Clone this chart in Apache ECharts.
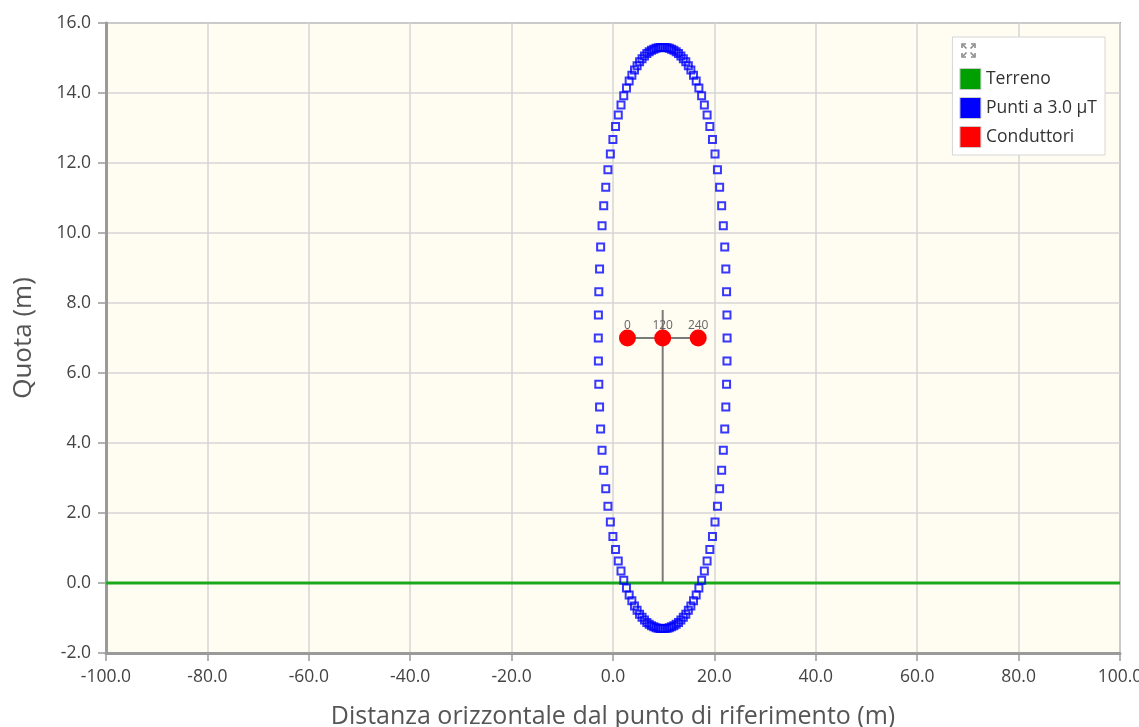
<!DOCTYPE html>
<html>
<head>
<meta charset="utf-8">
<script src="https://cdn.jsdelivr.net/npm/echarts@6/dist/echarts.min.js"></script>
<style>
html,body{margin:0;padding:0;background:#ffffff;}
#chart{width:1139px;height:727px;}
</style>
</head>
<body>
<div id="chart"></div>
<script>
// ---- data ----
const seriesNames = ['Terreno', 'Punti a 3.0 μT', 'Conduttori'];
const groundX = [-100, 100];
const groundY = [0, 0];

const contourX = [
  22.50, 22.48, 22.40, 22.25, 22.04, 21.76, 21.43, 21.03, 20.60, 20.12,
  19.62, 19.10, 18.56, 18.02, 17.48, 16.94, 16.41, 15.88, 15.36, 14.86,
  14.36, 13.87, 13.39, 12.92, 12.46, 12.00, 11.55, 11.11, 10.67, 10.24,
  9.80, 9.37, 8.93, 8.49, 8.05, 7.60, 7.14, 6.68, 6.21, 5.73,
  5.24, 4.75, 4.24, 3.72, 3.19, 2.66, 2.12, 1.58, 1.04, 0.50,
  -0.02, -0.52, -1.00, -1.43, -1.83, -2.16, -2.44, -2.65, -2.80, -2.88,
  -2.90, -2.88, -2.80, -2.65, -2.44, -2.16, -1.83, -1.43, -1.00, -0.52,
  -0.02, 0.50, 1.04, 1.58, 2.12, 2.66, 3.19, 3.72, 4.24, 4.75,
  5.24, 5.73, 6.21, 6.68, 7.14, 7.60, 8.05, 8.49, 8.93, 9.37,
  9.80, 10.24, 10.67, 11.11, 11.55, 12.00, 12.46, 12.92, 13.39, 13.87,
  14.36, 14.86, 15.36, 15.88, 16.41, 16.94, 17.48, 18.02, 18.56, 19.10,
  19.62, 20.12, 20.60, 21.03, 21.43, 21.76, 22.04, 22.25, 22.40, 22.48
];
const contourY = [
  7.00, 7.66, 8.32, 8.97, 9.60, 10.21, 10.78, 11.31, 11.81, 12.26,
  12.67, 13.04, 13.37, 13.66, 13.92, 14.14, 14.34, 14.51, 14.66, 14.78,
  14.89, 14.98, 15.06, 15.13, 15.18, 15.22, 15.25, 15.28, 15.29, 15.30,
  15.30, 15.30, 15.29, 15.28, 15.25, 15.22, 15.18, 15.13, 15.06, 14.98,
  14.89, 14.78, 14.66, 14.51, 14.34, 14.14, 13.92, 13.66, 13.37, 13.04,
  12.67, 12.26, 11.81, 11.31, 10.78, 10.21, 9.60, 8.97, 8.32, 7.66,
  7.00, 6.34, 5.68, 5.03, 4.40, 3.79, 3.22, 2.69, 2.19, 1.74,
  1.33, 0.96, 0.63, 0.34, 0.08, -0.14, -0.34, -0.51, -0.66, -0.78,
  -0.89, -0.98, -1.06, -1.13, -1.18, -1.22, -1.25, -1.28, -1.29, -1.30,
  -1.30, -1.30, -1.29, -1.28, -1.25, -1.22, -1.18, -1.13, -1.06, -0.98,
  -0.89, -0.78, -0.66, -0.51, -0.34, -0.14, 0.08, 0.34, 0.63, 0.96,
  1.33, 1.74, 2.19, 2.69, 3.22, 3.79, 4.40, 5.03, 5.68, 6.34
];

const conductorX = [2.85, 9.8, 16.8];
const conductorY = [7.0, 7.0, 7.0];
const conductorLabels = ['0', '120', '240'];

const poleX = [9.8, 9.8];
const poleY = [0, 7.8];
const armX = [2.85, 16.8];
const armY = [7.0, 7.0];

// ---- build ----
const zip = (xs, ys) => xs.map((x, i) => [x, ys[i]]);
const font = '"Open Sans", "DejaVu Sans", sans-serif';
const iconStyle = () => ({stroke: '#8a8a8a', lineWidth: 1.6, fill: 'none'});

const chart = echarts.init(document.getElementById('chart'), null, {renderer: 'canvas'});
chart.setOption({
  backgroundColor: '#ffffff',
  animation: false,
  textStyle: {fontFamily: font},
  grid: {
    left: 106, right: 19, top: 23, bottom: 74,
    containLabel: false, outerBoundsMode: 'none',
    show: true, backgroundColor: '#fffcf2',
    borderColor: '#a8a8a8', borderWidth: 2
  },
  xAxis: {
    type: 'value', min: -100, max: 100, interval: 20,
    name: 'Distanza orizzontale dal punto di riferimento (m)',
    nameLocation: 'middle', nameGap: 51,
    nameTextStyle: {fontSize: 25, color: '#555', fontFamily: font},
    axisLine: {show: true, onZero: false, lineStyle: {color: '#9a9a9a', width: 3}},
    axisTick: {show: true, length: 8, lineStyle: {color: '#9a9a9a', width: 1.5}},
    axisLabel: {fontSize: 17.5, color: '#444', margin: 15, formatter: v => v.toFixed(1), fontFamily: font},
    splitLine: {show: true, lineStyle: {color: '#d6d6d6', width: 1.5}}
  },
  yAxis: {
    type: 'value', min: -2, max: 16, interval: 2,
    name: 'Quota (m)', nameLocation: 'middle', nameGap: 69,
    nameTextStyle: {fontSize: 26, color: '#555', fontFamily: font},
    axisLine: {show: true, onZero: false, lineStyle: {color: '#9a9a9a', width: 3}},
    axisTick: {show: true, length: 8, lineStyle: {color: '#9a9a9a', width: 1.5}},
    axisLabel: {fontSize: 17.5, color: '#444', margin: 15, formatter: v => v.toFixed(1), fontFamily: font},
    splitLine: {show: true, lineStyle: {color: '#d6d6d6', width: 1.5}}
  },
  legend: {
    orient: 'vertical', right: 34, top: 37,
    padding: [31, 8, 7, 7],
    backgroundColor: '#ffffff', borderColor: '#d6d6d6', borderWidth: 1,
    itemWidth: 21, itemHeight: 21, itemGap: 7, icon: 'rect',
    textStyle: {fontSize: 17.5, color: '#333', fontFamily: font},
    data: [
      {name: seriesNames[0], itemStyle: {color: '#00a000', borderColor: '#cccccc', borderWidth: 1, opacity: 1}},
      {name: seriesNames[1], itemStyle: {color: '#0000ff', borderColor: '#cccccc', borderWidth: 1, opacity: 1}},
      {name: seriesNames[2], itemStyle: {color: '#ff0000', borderColor: '#cccccc', borderWidth: 1, opacity: 1}}
    ],
    selectedMode: false
  },
  graphic: {
    elements: [
      {type: 'polyline', x: 962, y: 44, z: 100, shape: {points: [[0, 4], [0, 0], [4, 0]]}, style: iconStyle()},
      {type: 'polyline', x: 962, y: 44, z: 100, shape: {points: [[9, 0], [13, 0], [13, 4]]}, style: iconStyle()},
      {type: 'polyline', x: 962, y: 44, z: 100, shape: {points: [[0, 9], [0, 13], [4, 13]]}, style: iconStyle()},
      {type: 'polyline', x: 962, y: 44, z: 100, shape: {points: [[9, 13], [13, 13], [13, 9]]}, style: iconStyle()},
      {type: 'line', x: 962, y: 44, z: 100, shape: {x1: 1, y1: 1, x2: 4.5, y2: 4.5}, style: iconStyle()},
      {type: 'line', x: 962, y: 44, z: 100, shape: {x1: 12, y1: 1, x2: 8.5, y2: 4.5}, style: iconStyle()},
      {type: 'line', x: 962, y: 44, z: 100, shape: {x1: 1, y1: 12, x2: 4.5, y2: 8.5}, style: iconStyle()},
      {type: 'line', x: 962, y: 44, z: 100, shape: {x1: 12, y1: 12, x2: 8.5, y2: 8.5}, style: iconStyle()}
    ]
  },
  series: [
    {
      name: seriesNames[0], type: 'line', data: zip(groundX, groundY),
      symbol: 'none', lineStyle: {color: '#1ca81c', width: 3}, z: 4
    },
    {
      name: 'palo', type: 'line', data: zip(poleX, poleY),
      symbol: 'none', lineStyle: {color: '#7a7a7a', width: 2}, z: 3, silent: true
    },
    {
      name: 'mensola', type: 'line', data: zip(armX, armY),
      symbol: 'none', lineStyle: {color: '#7a7a7a', width: 2}, z: 3, silent: true
    },
    {
      name: seriesNames[1], type: 'scatter', data: zip(contourX, contourY),
      symbol: 'rect', symbolSize: 7,
      itemStyle: {color: 'rgba(255,255,255,0)', borderColor: 'rgba(0,0,255,0.78)', borderWidth: 2, opacity: 1},
      z: 5
    },
    {
      name: seriesNames[2], type: 'scatter',
      data: conductorX.map((x, i) => ({value: [x, conductorY[i]], label: {formatter: conductorLabels[i]}})),
      symbol: 'circle', symbolSize: 17,
      itemStyle: {color: '#ff0000', opacity: 1},
      label: {show: true, position: 'top', distance: -2, fontSize: 12, color: '#666', fontFamily: font},
      z: 6
    }
  ]
});
</script>
</body>
</html>
